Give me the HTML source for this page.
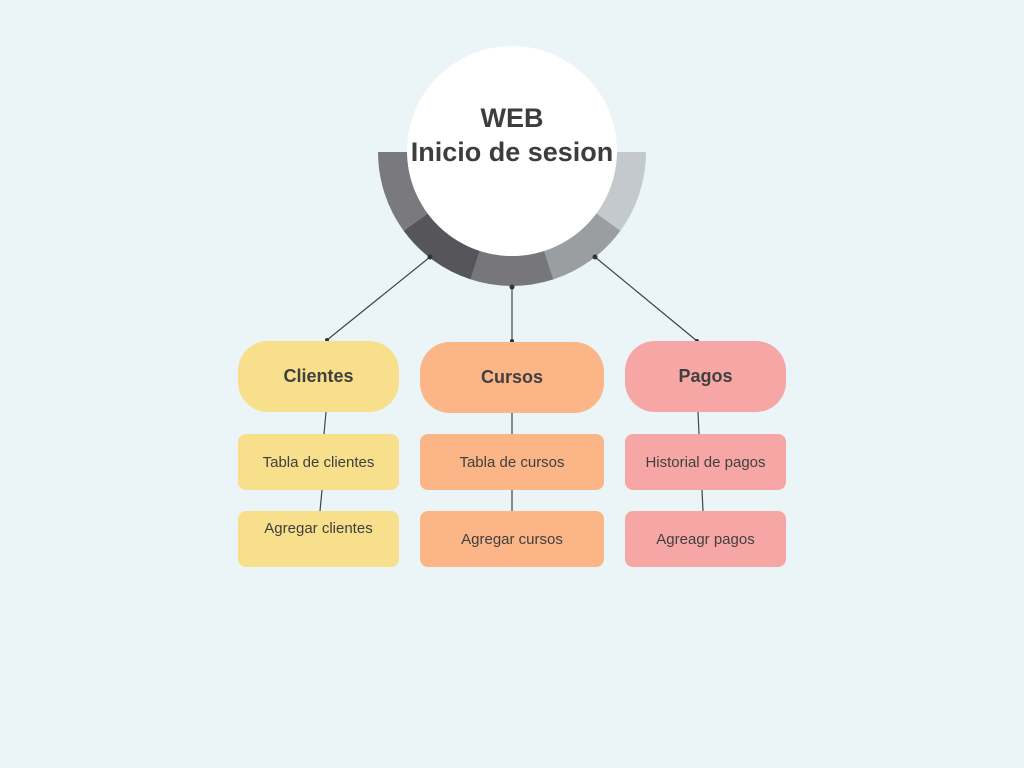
<!DOCTYPE html>
<html><head><style>
body{margin:0;width:1024px;height:768px;background:#ebf4f6;font-family:"Liberation Sans",sans-serif;overflow:hidden;position:relative}
.b{position:absolute;display:flex;align-items:center;justify-content:center;color:#404040;text-align:center}
.big{font-weight:bold;font-size:18px;border-radius:30px;height:71px}
.sm{font-size:15px;border-radius:8px;height:56px}
.y{background:#f7df8b}.o{background:#fbb586}.p{background:#f7a6a6}
</style></head><body>
<svg width="1024" height="768" style="position:absolute;left:0;top:0">
<g stroke="#444" stroke-width="1.2">
<line x1="430" y1="257" x2="327" y2="340"/><line x1="512" y1="287" x2="512" y2="341"/><line x1="595" y1="257" x2="697" y2="341"/>
<line x1="326" y1="412" x2="324" y2="434"/><line x1="322" y1="490" x2="320" y2="511"/>
<line x1="512" y1="413" x2="512" y2="434"/><line x1="512" y1="490" x2="512" y2="511"/>
<line x1="698" y1="412" x2="699" y2="434"/><line x1="702" y1="490" x2="703" y2="511"/>
</g>
<path d="M646 152 A134 134 0 0 1 620.4 230.8 L596.1 213.2 A104 104 0 0 0 616 152Z" fill="#c3c9cc"/>
<path d="M620.4 230.8 A134 134 0 0 1 553.4 279.4 L544.1 250.9 A104 104 0 0 0 596.1 213.2Z" fill="#9a9ea1"/>
<path d="M553.4 279.4 A134 134 0 0 1 470.6 279.4 L479.9 250.9 A104 104 0 0 0 544.1 250.9Z" fill="#77777b"/>
<path d="M470.6 279.4 A134 134 0 0 1 403.6 230.8 L427.9 213.2 A104 104 0 0 0 479.9 250.9Z" fill="#56555a"/>
<path d="M403.6 230.8 A134 134 0 0 1 378 152 L408 152 A104 104 0 0 0 427.9 213.2Z" fill="#7a797e"/>
<circle cx="512" cy="151" r="105" fill="#fff"/>
<g fill="#333"><circle cx="430" cy="257" r="2.5"/><circle cx="512" cy="287" r="2.5"/><circle cx="595" cy="257" r="2.5"/>
<circle cx="327" cy="340" r="2"/><circle cx="512" cy="341" r="2"/><circle cx="697" cy="341" r="2"/></g>
<text x="512" y="127" text-anchor="middle" font-family="Liberation Sans" font-weight="bold" font-size="27" fill="#3d3d3d">WEB</text>
<text x="512" y="161" text-anchor="middle" font-family="Liberation Sans" font-weight="bold" font-size="27" fill="#3d3d3d">Inicio de sesion</text>
</svg>
<div class="b big y" style="left:238px;top:341px;width:161px">Clientes</div>
<div class="b big o" style="left:420px;top:342px;width:184px">Cursos</div>
<div class="b big p" style="left:625px;top:341px;width:161px">Pagos</div>
<div class="b sm y" style="left:238px;top:434px;width:161px">Tabla de clientes</div>
<div class="b sm o" style="left:420px;top:434px;width:184px">Tabla de cursos</div>
<div class="b sm p" style="left:625px;top:434px;width:161px">Historial de pagos</div>
<div class="b sm y" style="left:238px;top:511px;width:161px;align-items:flex-start;padding-top:9px;height:47px">Agregar clientes</div>
<div class="b sm o" style="left:420px;top:511px;width:184px">Agregar cursos</div>
<div class="b sm p" style="left:625px;top:511px;width:161px">Agreagr pagos</div>
</body></html>
